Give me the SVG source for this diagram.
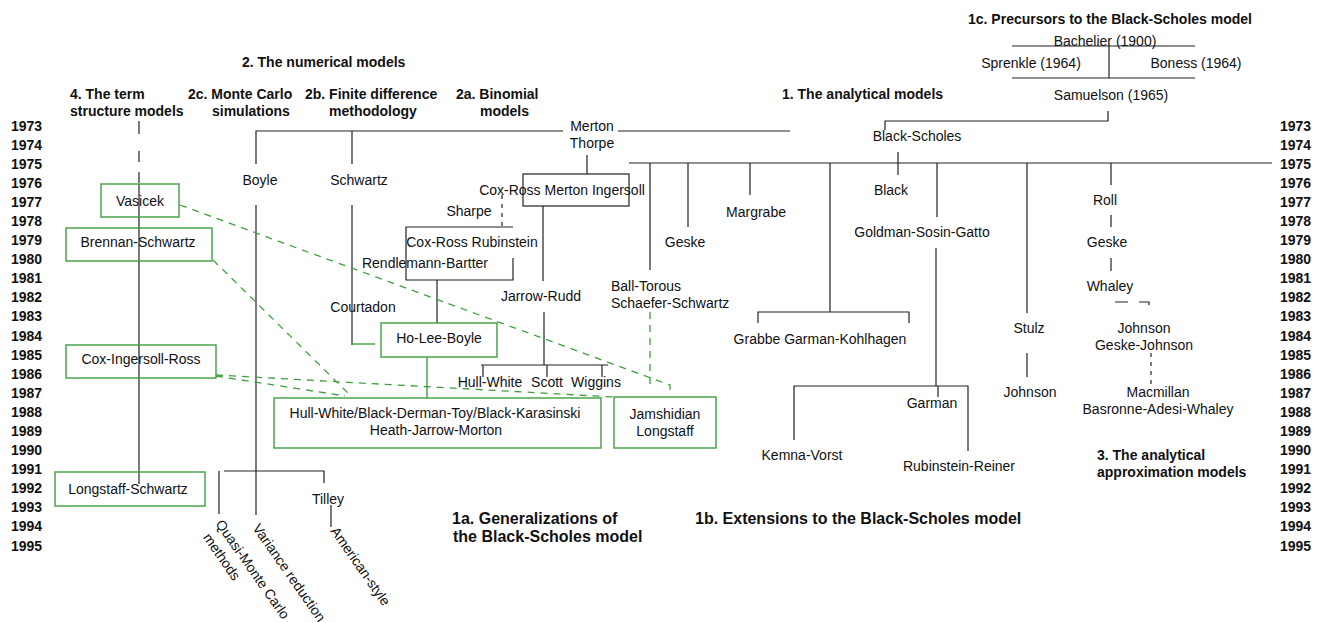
<svg xmlns="http://www.w3.org/2000/svg" width="1329" height="623" viewBox="0 0 1329 623">
  <style>
    text { font-family: "Liberation Sans", Arial, sans-serif; fill: #111; }
    .t { font-size: 14px; }
    .c { text-anchor: middle; }
    .b { font-size: 14px; font-weight: bold; }
    .bl { font-size: 16px; font-weight: bold; }
    .yr { font-size: 14px; font-weight: bold; }
    .ln { fill: none; stroke: #222; stroke-width: 1.2; }
    .kd { fill: none; stroke: #222; stroke-width: 1.2; stroke-dasharray: 4 5; }
    .gb { fill: none; stroke: #3f9f3f; stroke-width: 1.4; }
    .gs { fill: none; stroke: #3f9f3f; stroke-width: 1.4; }
    .gd { fill: none; stroke: #3f9f3f; stroke-width: 1.3; stroke-dasharray: 7 6; }
  </style>

  <rect width="1329" height="623" fill="#fff"/>

  <!-- year scale, left and right -->
  <g id="years-left" class="yr">
    <text x="11" y="130.5">1973</text><text x="11" y="149.6">1974</text><text x="11" y="168.7">1975</text>
    <text x="11" y="187.8">1976</text><text x="11" y="206.9">1977</text><text x="11" y="226">1978</text>
    <text x="11" y="245">1979</text><text x="11" y="264.1">1980</text><text x="11" y="283.2">1981</text>
    <text x="11" y="302.3">1982</text><text x="11" y="321.4">1983</text><text x="11" y="340.5">1984</text>
    <text x="11" y="359.6">1985</text><text x="11" y="378.7">1986</text><text x="11" y="397.8">1987</text>
    <text x="11" y="416.9">1988</text><text x="11" y="435.9">1989</text><text x="11" y="455">1990</text>
    <text x="11" y="474.1">1991</text><text x="11" y="493.2">1992</text><text x="11" y="512.3">1993</text>
    <text x="11" y="531.4">1994</text><text x="11" y="550.5">1995</text>
  </g>
  <g id="years-right" class="yr">
    <text x="1280" y="130.5">1973</text><text x="1280" y="149.6">1974</text><text x="1280" y="168.7">1975</text>
    <text x="1280" y="187.8">1976</text><text x="1280" y="206.9">1977</text><text x="1280" y="226">1978</text>
    <text x="1280" y="245">1979</text><text x="1280" y="264.1">1980</text><text x="1280" y="283.2">1981</text>
    <text x="1280" y="302.3">1982</text><text x="1280" y="321.4">1983</text><text x="1280" y="340.5">1984</text>
    <text x="1280" y="359.6">1985</text><text x="1280" y="378.7">1986</text><text x="1280" y="397.8">1987</text>
    <text x="1280" y="416.9">1988</text><text x="1280" y="435.9">1989</text><text x="1280" y="455">1990</text>
    <text x="1280" y="474.1">1991</text><text x="1280" y="493.2">1992</text><text x="1280" y="512.3">1993</text>
    <text x="1280" y="531.4">1994</text><text x="1280" y="550.5">1995</text>
  </g>

  <!-- section headings -->
  <g id="headings" class="b">
    <text x="968" y="24">1c. Precursors to the Black-Scholes model</text>
    <text x="242" y="67">2. The numerical models</text>
    <text x="70" y="99">4. The term</text>
    <text x="70" y="116">structure models</text>
    <text x="188" y="99">2c. Monte Carlo</text>
    <text x="212" y="116">simulations</text>
    <text x="305" y="99">2b. Finite difference</text>
    <text x="329" y="116">methodology</text>
    <text x="456" y="99">2a. Binomial</text>
    <text x="480" y="116">models</text>
    <text x="782" y="99">1. The analytical models</text>
    <text x="1097" y="460">3. The analytical</text>
    <text x="1097" y="477">approximation models</text>
    <text class="bl" x="452" y="524">1a. Generalizations of</text>
    <text class="bl" x="453" y="542">the Black-Scholes model</text>
    <text class="bl" x="695" y="524">1b. Extensions to the Black-Scholes model</text>
  </g>

  <!-- connectors -->
  <g id="connectors">
    <!-- precursors -->
    <path class="ln" d="M1012,46 H1195 M1109,46 V78 M1012,78 H1195"/>
    <path class="ln" d="M1108,111 V121 H885 V130"/>
    <!-- Merton / Thorpe line -->
    <path class="ln" d="M256,164 V131 H563 M618,131 H790 M352,131 V164"/>
    <path class="ln" d="M587,155 V174"/>
    <!-- Monte Carlo branch -->
    <path class="ln" d="M256,205 V515"/>
    <path class="ln" d="M219,471 V514 M224,471 H324 V483 M331,505 V527"/>
    <!-- finite difference branch -->
    <path class="ln" d="M352,205 V345"/>
    <path class="gs" d="M352,344 H375"/>
    <!-- binomial branch -->
    <rect class="ln" x="523" y="174" width="106" height="32"/>
    <path class="kd" d="M502,195 V227"/>
    <path class="ln" d="M513,227 H406 V280 H513 V258"/>
    <path class="ln" d="M437,280 V323"/>
    <path class="ln" d="M543,206 V281 M544,312 V365 M481,365 H608 M483,365 V377 M547,365 V377 M602,365 V377"/>
    <path class="gs" d="M427,357 V398"/>
    <!-- term structure spine -->
    <path class="ln" d="M139,121 V134 M139,151 V162 M139,172 V183"/>
    <path class="ln" d="M139,184 V484"/>
    <!-- Black-Scholes 1975 line and branches -->
    <path class="ln" d="M629,163 H1272"/>
    <path class="ln" d="M898,152 V175"/>
    <path class="ln" d="M650,163 V270 M688,163 V227 M750,163 V195"/>
    <path class="ln" d="M830,163 V312 M758,323 V312 H909 V323"/>
    <path class="ln" d="M937,163 V217 M936,248 V386 M794,440 V386 H968 V451 M938,386 V397"/>
    <path class="ln" d="M1027,163 V313 M1027,353 V377"/>
    <path class="ln" d="M1111,163 V185 M1111,215 V227 M1111,258 V271"/>
    <path class="ln" d="M1115,302 H1149 V313" style="stroke-dasharray: 13 11"/>
    <path class="kd" d="M1151,353 V385"/>
    <!-- term structure influences -->
    <path class="gd" d="M180,205 L670,385 V392"/>
    <path class="gd" d="M213,260 L348,393"/>
    <path class="gd" d="M216,376 L345,396"/>
    <path class="gd" d="M216,375 L614,397"/>
    <path class="gd" d="M650,312 V390"/>
  </g>

  <!-- precursors -->
  <g id="bachelier"><text class="t c" x="1105" y="46">Bachelier (1900)</text></g>
  <g id="sprenkle"><text class="t c" x="1031" y="68">Sprenkle (1964)</text></g>
  <g id="boness"><text class="t c" x="1196" y="68">Boness (1964)</text></g>
  <g id="samuelson"><text class="t c" x="1111" y="100">Samuelson (1965)</text></g>

  <!-- analytical models -->
  <g id="black-scholes"><text class="t c" x="917" y="141">Black-Scholes</text></g>
  <g id="merton-thorpe">
    <text class="t c" x="592" y="131">Merton</text>
    <text class="t c" x="592" y="148">Thorpe</text>
  </g>
  <g id="black"><text class="t c" x="891" y="195">Black</text></g>
  <g id="margrabe"><text class="t c" x="756" y="217">Margrabe</text></g>
  <g id="geske-1979"><text class="t c" x="685" y="247">Geske</text></g>
  <g id="goldman-sosin-gatto"><text class="t c" x="922" y="237">Goldman-Sosin-Gatto</text></g>
  <g id="ball-torous">
    <text class="t" x="611" y="291">Ball-Torous</text>
    <text class="t" x="611" y="308">Schaefer-Schwartz</text>
  </g>
  <g id="grabbe-garman-kohlhagen"><text class="t c" x="820" y="344">Grabbe Garman-Kohlhagen</text></g>
  <g id="garman"><text class="t c" x="932" y="408">Garman</text></g>
  <g id="kemna-vorst"><text class="t c" x="802" y="460">Kemna-Vorst</text></g>
  <g id="rubinstein-reiner"><text class="t c" x="959" y="471">Rubinstein-Reiner</text></g>
  <g id="stulz"><text class="t c" x="1029" y="333">Stulz</text></g>
  <g id="johnson-1987"><text class="t c" x="1030" y="397">Johnson</text></g>

  <!-- analytical approximations -->
  <g id="roll"><text class="t c" x="1105" y="205">Roll</text></g>
  <g id="geske-1979b"><text class="t c" x="1107" y="247">Geske</text></g>
  <g id="whaley"><text class="t c" x="1110" y="291">Whaley</text></g>
  <g id="johnson-geske-johnson">
    <text class="t c" x="1144" y="333">Johnson</text>
    <text class="t c" x="1144" y="350">Geske-Johnson</text>
  </g>
  <g id="macmillan-baw">
    <text class="t c" x="1158" y="397">Macmillan</text>
    <text class="t c" x="1158" y="414">Basronne-Adesi-Whaley</text>
  </g>

  <!-- binomial models -->
  <g id="crr-mi"><text class="t c" x="562" y="195">Cox-Ross Merton Ingersoll</text></g>
  <g id="sharpe"><text class="t c" x="469" y="216">Sharpe</text></g>
  <g id="cox-ross-rubinstein"><text class="t c" x="472" y="247">Cox-Ross Rubinstein</text></g>
  <g id="rendlemann-bartter"><text class="t c" x="425" y="268">Rendlemann-Bartter</text></g>
  <g id="jarrow-rudd"><text class="t c" x="541" y="301">Jarrow-Rudd</text></g>
  <g id="hull-white-scott-wiggins">
    <text class="t c" x="490" y="387">Hull-White</text>
    <text class="t c" x="547" y="387">Scott</text>
    <text class="t c" x="596" y="387">Wiggins</text>
  </g>

  <!-- finite difference / Monte Carlo -->
  <g id="schwartz"><text class="t c" x="359" y="185">Schwartz</text></g>
  <g id="courtadon"><text class="t c" x="363" y="312">Courtadon</text></g>
  <g id="boyle"><text class="t c" x="260" y="185">Boyle</text></g>
  <g id="tilley"><text class="t c" x="328" y="504">Tilley</text></g>
  <g id="quasi-monte-carlo" transform="translate(215,524) rotate(55)">
    <text class="t" x="0" y="0">Quasi-Monte Carlo</text>
    <text class="t" x="4" y="18">methods</text>
  </g>
  <g id="variance-reduction"><text class="t" transform="translate(252,528) rotate(55)">Variance reduction</text></g>
  <g id="american-style"><text class="t" transform="translate(330,531) rotate(55)">American-style</text></g>

  <!-- term structure models -->
  <g id="vasicek">
    <rect class="gb" x="101" y="184" width="78" height="33"/>
    <text class="t c" x="140" y="206">Vasicek</text>
  </g>
  <g id="brennan-schwartz">
    <rect class="gb" x="66" y="228" width="146" height="33"/>
    <text class="t c" x="138" y="247">Brennan-Schwartz</text>
  </g>
  <g id="cox-ingersoll-ross">
    <rect class="gb" x="66" y="345" width="150" height="33"/>
    <text class="t c" x="141" y="364">Cox-Ingersoll-Ross</text>
  </g>
  <g id="longstaff-schwartz">
    <rect class="gb" x="55" y="472" width="150" height="34"/>
    <text class="t c" x="128" y="494">Longstaff-Schwartz</text>
  </g>
  <g id="ho-lee-boyle">
    <rect class="gb" x="381" y="323" width="116" height="34"/>
    <text class="t c" x="439" y="343">Ho-Lee-Boyle</text>
  </g>
  <g id="hw-bdt-bk-hjm">
    <rect class="gb" x="274" y="398" width="327" height="50"/>
    <text class="t c" x="435" y="418">Hull-White/Black-Derman-Toy/Black-Karasinski</text>
    <text class="t c" x="436" y="435">Heath-Jarrow-Morton</text>
  </g>
  <g id="jamshidian-longstaff">
    <rect class="gb" x="614" y="397" width="102" height="51"/>
    <text class="t c" x="665" y="419">Jamshidian</text>
    <text class="t c" x="665" y="436">Longstaff</text>
  </g>
</svg>
